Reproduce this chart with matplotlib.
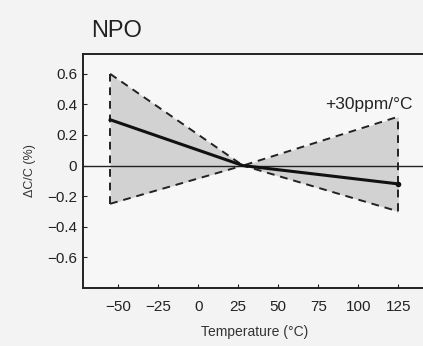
import matplotlib.pyplot as plt

plt.rcParams['font.family'] = ['Liberation Sans', 'DejaVu Sans']

# Datos
temp_borde = [-55, 28, 125]
limite_sup = [0.60, 0.0, 0.32]
limite_inf = [-0.25, 0.0, -0.30]
temp_tipico = [-55, 28, 125]
tipico = [0.30, 0.0, -0.12]

x_ticks = [-50, -25, 0, 25, 50, 75, 100, 125]
y_ticks = [0.6, 0.4, 0.2, 0, -0.2, -0.4, -0.6]
y_labels = ['0.6', '0.4', '0.2', '0', '\u22120.2', '\u22120.4', '\u22120.6']
x_labels = ['\u221250', '\u221225', '0', '25', '50', '75', '100', '125']

fig = plt.figure(figsize=(4.23, 3.46), dpi=100, facecolor='#f3f3f3')
ax = fig.add_axes([0.196, 0.168, 0.81, 0.676])
ax.set_facecolor('#f7f7f7')

# Zona sombreada entre los limites
ax.fill_between(temp_borde, limite_inf, limite_sup, color='#d2d2d2', lw=0)
ax.plot(temp_borde, limite_sup, color='#222222', ls=(0, (4, 3)), lw=1.4)
ax.plot(temp_borde, limite_inf, color='#222222', ls=(0, (4, 3)), lw=1.4)
for t, lo, hi in [(temp_borde[0], limite_inf[0], limite_sup[0]),
                  (temp_borde[-1], limite_inf[-1], limite_sup[-1])]:
    ax.plot([t, t], [lo, hi], color='#222222', ls=(0, (4, 3)), lw=1.4)

ax.axhline(0, color='#222222', lw=1.0)
ax.plot(temp_tipico, tipico, color='#111111', lw=2.2)
ax.plot(temp_tipico[-1], tipico[-1], 'o', color='#111111', ms=3)

ax.text(134, 0.4, '+30ppm/\u00b0C', fontsize=12.5, ha='right', va='center', color='#222222')

ax.set_xlim(-72, 142)
ax.set_ylim(-0.8, 0.73)
ax.set_xticks(x_ticks)
ax.set_xticklabels(x_labels)
ax.set_yticks(y_ticks)
ax.set_yticklabels(y_labels)
ax.tick_params(direction='in', length=3, labelsize=11, colors='#222222', pad=4)
ax.tick_params(axis='x', pad=9)
ax.spines['right'].set_visible(False)
for s in ['left', 'bottom', 'top']:
    ax.spines[s].set_linewidth(1.4)
    ax.spines[s].set_color('#222222')

ax.set_ylabel('\u0394C/C (%)', fontsize=9, color='#333333', labelpad=8)
ax.set_xlabel('Temperature (\u00b0C)', fontsize=10, color='#333333', labelpad=8)
fig.text(0.216, 0.91, 'NPO', fontsize=17, color='#222222', va='center')

fig.savefig('out.png', dpi=100, facecolor=fig.get_facecolor())
